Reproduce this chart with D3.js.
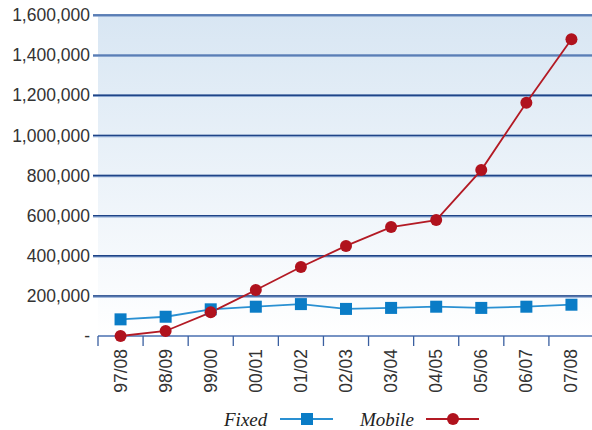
<!DOCTYPE html>
<html>
<head>
<meta charset="utf-8">
<script src="https://cdn.jsdelivr.net/npm/d3@7"></script>
<style>
  html, body { margin: 0; padding: 0; background: #fff; }
  svg { display: block; }
</style>
</head>
<body>
<div id="chart"></div>
<script>
var years = ["97/08", "98/09", "99/00", "00/01", "01/02", "02/03", "03/04", "04/05", "05/06", "06/07", "07/08"];
var fixedValues = [83000, 96000, 133000, 146000, 159000, 135000, 140000, 146000, 140000, 146000, 156000];
var mobileValues = [0, 25000, 118000, 229000, 344000, 449000, 543000, 578000, 827000, 1163000, 1479000];
var yTicks = [0, 200000, 400000, 600000, 800000, 1000000, 1200000, 1400000, 1600000];

var width = 592, height = 430;
var plotLeft = 98, plotRight = 594, plotTop = 15, plotBottom = 336;

var svg = d3.select("#chart").append("svg").attr("width", width).attr("height", height);

var x = d3.scaleBand().domain(years).range([plotLeft, plotRight]);
var y = d3.scaleLinear().domain([0, 1600000]).range([plotBottom, plotTop]);
var cx = function(d) { return x(d) + x.bandwidth() / 2; };

// background gradient
var grad = svg.append("defs").append("linearGradient").attr("id", "bg")
  .attr("x1", 0).attr("y1", 0).attr("x2", 0).attr("y2", 1);
grad.append("stop").attr("offset", "0%").attr("stop-color", "#d8e6f3");
grad.append("stop").attr("offset", "100%").attr("stop-color", "#ffffff");

svg.append("rect").attr("x", plotLeft).attr("y", y(1600000)).attr("width", width - plotLeft)
  .attr("height", y(0) - y(1600000)).attr("fill", "url(#bg)");

// gridlines + y labels
var fmt = d3.format(",");
yTicks.forEach(function(t) {
  if (t > 0) {
    svg.append("line").attr("x1", plotLeft - 5).attr("x2", width)
      .attr("y1", y(t) + 0.5).attr("y2", y(t) + 0.5)
      .attr("stroke", "#8aa6d0").attr("stroke-width", 2.5);
    svg.append("line").attr("x1", plotLeft - 5).attr("x2", width)
      .attr("y1", y(t)).attr("y2", y(t))
      .attr("stroke", t >= 1400000 ? "#4a70ad" : "#1f4487").attr("stroke-width", 1.3);
  }
  svg.append("text").attr("x", plotLeft - 8).attr("y", y(t)).attr("dy", "0.35em")
    .attr("text-anchor", "end").attr("font-family", "Liberation Sans, Arial, sans-serif")
    .attr("font-size", "17.5px").attr("fill", "#333")
    .text(t === 0 ? "-" : fmt(t));
});

// x axis line and ticks
svg.append("line").attr("x1", plotLeft).attr("x2", width).attr("y1", plotBottom).attr("y2", plotBottom)
  .attr("stroke", "#4a6fb0").attr("stroke-width", 1.5);
years.forEach(function(d) {
  svg.append("line").attr("x1", x(d)).attr("x2", x(d)).attr("y1", plotBottom).attr("y2", plotBottom + 10)
    .attr("stroke", "#3a5fa0").attr("stroke-width", 1.3);
  svg.append("text").attr("transform", "translate(" + (cx(d) + 6) + "," + (plotBottom + 13) + ") rotate(-90)")
    .attr("text-anchor", "end").attr("font-family", "Liberation Sans, Arial, sans-serif")
    .attr("font-size", "17.5px").attr("fill", "#333").text(d);
});

// lines
var line = d3.line().x(function(d, i) { return cx(years[i]); }).y(function(d) { return y(d); });

svg.append("path").datum(fixedValues).attr("d", line).attr("fill", "none")
  .attr("stroke", "#2a90d2").attr("stroke-width", 1.8);
svg.append("path").datum(mobileValues).attr("d", line).attr("fill", "none")
  .attr("stroke", "#b31a24").attr("stroke-width", 1.8);

fixedValues.forEach(function(v, i) {
  svg.append("rect").attr("x", cx(years[i]) - 6).attr("y", y(v) - 6)
    .attr("width", 12).attr("height", 12).attr("fill", "#0a7cc6");
});
mobileValues.forEach(function(v, i) {
  svg.append("circle").attr("cx", cx(years[i])).attr("cy", y(v)).attr("r", 6)
    .attr("fill", "#b0121d");
});

// legend
var ly = 419;
svg.append("text").attr("x", 224).attr("y", ly).attr("dy", "0.35em")
  .attr("font-family", "Liberation Serif, serif").attr("font-style", "italic")
  .attr("font-size", "19px").attr("fill", "#222").text("Fixed");
svg.append("line").attr("x1", 280).attr("x2", 333).attr("y1", ly).attr("y2", ly)
  .attr("stroke", "#2a90d2").attr("stroke-width", 1.8);
svg.append("rect").attr("x", 301).attr("y", ly - 6).attr("width", 12).attr("height", 12).attr("fill", "#0a7cc6");

svg.append("text").attr("x", 360).attr("y", ly).attr("dy", "0.35em")
  .attr("font-family", "Liberation Serif, serif").attr("font-style", "italic")
  .attr("font-size", "19px").attr("fill", "#222").text("Mobile");
svg.append("line").attr("x1", 426).attr("x2", 479).attr("y1", ly).attr("y2", ly)
  .attr("stroke", "#b31a24").attr("stroke-width", 1.8);
svg.append("circle").attr("cx", 453).attr("cy", ly).attr("r", 6).attr("fill", "#b0121d");
</script>
</body>
</html>
